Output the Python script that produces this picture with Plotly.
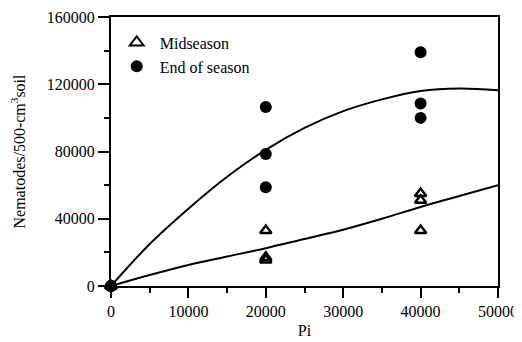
import plotly.graph_objects as go

# Observed data
mid_x = [0, 0, 0, 20000, 20000, 20000, 40000, 40000, 40000]
mid_y = [0, 0, 0, 33000, 17000, 15500, 55000, 51000, 33000]
end_x = [0, 0, 0, 20000, 20000, 20000, 40000, 40000, 40000]
end_y = [0, 0, 0, 106500, 78500, 58700, 139000, 108500, 100000]

# Fitted curves
curve_x = [0, 5000, 10000, 15000, 20000, 25000, 30000, 35000, 40000, 45000, 50000]
end_curve_y = [0, 25000, 46000, 65000, 81000, 94000, 104000, 111000, 116000, 117500, 116500]
mid_curve_y = [0, 6500, 12500, 17500, 22500, 28000, 33500, 40000, 47000, 53500, 60000]

x_ticks = [0, 10000, 20000, 30000, 40000, 50000]
y_ticks = [0, 40000, 80000, 120000, 160000]

font = dict(family="Times New Roman, Liberation Serif, DejaVu Serif, serif", size=16, color="black")

fig = go.Figure()
fig.add_trace(go.Scatter(x=curve_x, y=end_curve_y, mode="lines", line=dict(color="black", width=2, shape="spline"),
                         showlegend=False, hoverinfo="skip"))
fig.add_trace(go.Scatter(x=curve_x, y=mid_curve_y, mode="lines", line=dict(color="black", width=2, shape="spline"),
                         showlegend=False, hoverinfo="skip"))
fig.add_trace(go.Scatter(x=mid_x, y=mid_y, mode="markers", name="Midseason",
                         marker=dict(symbol="triangle-up-open", size=10, color="black", line=dict(width=2.5, color="black")),
                         cliponaxis=False))
fig.add_trace(go.Scatter(x=end_x, y=end_y, mode="markers", name="End of season",
                         marker=dict(symbol="circle", size=12, color="black"), cliponaxis=False))

fig.update_layout(
    width=514, height=334,
    margin=dict(l=103, r=24, t=9, b=56, autoexpand=False),
    paper_bgcolor="white", plot_bgcolor="white",
    font=font,
    legend=dict(x=0.007, y=0.968, xanchor="left", yanchor="top", bgcolor="rgba(0,0,0,0)",
                font=font, itemsizing="constant", itemwidth=36, tracegroupgap=0),
)
fig.update_xaxes(range=[0, 50000], tickvals=x_ticks, ticktext=[str(v) for v in x_ticks],
                 automargin=False,
                 showgrid=False, zeroline=False, showline=True, linecolor="black", linewidth=2, mirror=True,
                 ticks="outside", ticklen=10, tickwidth=1.5, tickcolor="black",
                 minor=dict(tickvals=[5000, 15000, 25000, 35000, 45000], ticks="outside", ticklen=5, tickcolor="black", tickwidth=1.5),
                 title=dict(text="Pi", font=font, standoff=6))
fig.update_yaxes(range=[0, 160000], tickvals=y_ticks, ticktext=[str(v) for v in y_ticks],
                 automargin=False,
                 showgrid=False, zeroline=False, showline=True, linecolor="black", linewidth=2, mirror=True,
                 ticks="outside", ticklen=11, tickwidth=1.5, tickcolor="black",
                 minor=dict(tickvals=[20000, 60000, 100000, 140000], ticks="outside", ticklen=5, tickcolor="black", tickwidth=1.5),
                 title=dict(text="Nematodes/500-cm<sup>3</sup>soil", font=font, standoff=17))

fig.write_html("out.html")
